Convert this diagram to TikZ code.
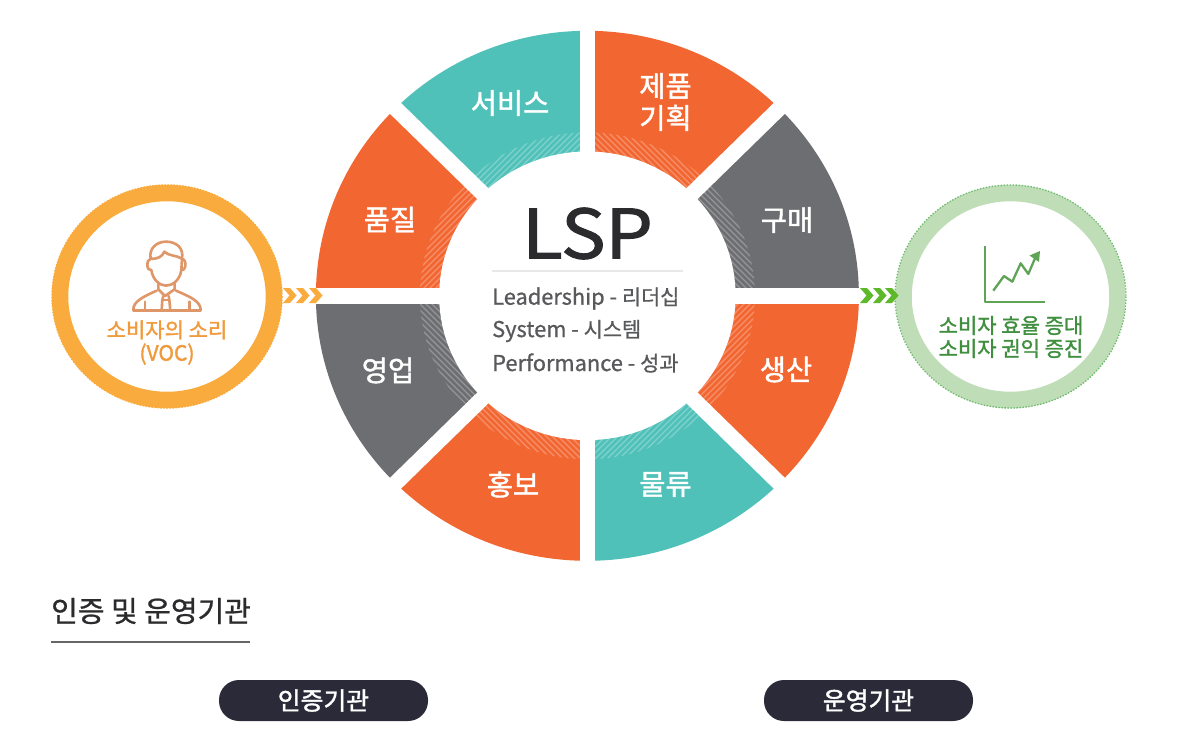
\documentclass[tikz,border=0pt]{standalone}
\usepackage{fontspec}
\setmainfont{Noto Sans CJK KR}
\newfontfamily\medf[FakeBold=0.8]{Noto Sans CJK KR}
\newfontfamily\semf[FakeBold=1.5]{Noto Sans CJK KR}
\usetikzlibrary{shapes.geometric}
\definecolor{cOrange}{HTML}{F26631}
\definecolor{cTeal}{HTML}{4FC1B9}
\definecolor{cGray}{HTML}{6D6E71}
\definecolor{cRingO}{HTML}{FAAB3E}
\definecolor{cRingG}{HTML}{BFDDB6}
\definecolor{cDotG}{HTML}{6FBB6F}
\definecolor{cChevG}{HTML}{5DB82A}
\definecolor{cIconO}{HTML}{DF9668}
\definecolor{cTextO}{HTML}{F09A3C}
\definecolor{cTextG}{HTML}{3F8F3F}
\definecolor{cIconG}{HTML}{5FA356}
\definecolor{cDark}{HTML}{2B2B2D}
\definecolor{cMid}{HTML}{58595B}
\definecolor{cPill}{HTML}{2A2A38}
\newcommand{\latinpart}{\medf\fontsize{21.8}{24}\selectfont}
\newcommand{\hangulpart}{\medf\fontsize{20.8}{24}\selectfont}
\tikzset{
  seclabel/.style={text=white,font=\fontsize{28.5}{32}\selectfont\semf,align=center,inner sep=0pt},
  lsprow/.style={text=cMid,anchor=west,inner sep=0pt},
  ringnode/.style={ellipse,minimum width=214pt,minimum height=207pt,line width=16.5pt,inner sep=0pt},
  ringlabel/.style={font=\fontsize{21}{24}\selectfont\semf,align=center,inner sep=0pt},
  pill/.style={fill=cPill,rounded corners=20pt,minimum width=209pt,minimum height=41pt,inner sep=0pt,text=white,font=\fontsize{24.8}{28}\selectfont\semf},
  gapline/.style={white,line width=15.5pt},
  hatchline/.style={white,opacity=.28,line width=1.1pt}
}
\newcommand{\wheelsector}[8]{%
  \begin{scope}
    \clip (587.4,295.8) -- ++(#2,#3) -- ++(#4,#5) -- cycle;
    \fill[#1] (587.4,295.8) ellipse (271.5 and 265);
    \clip (587.4,295.8) ellipse (167.5 and 163.5);
    \foreach \k in {-1300,-1294,...,1300}{
      \draw[hatchline] (\k,#6) -- ++(#7,#8);
    }
  \end{scope}}
\begin{document}
\begin{tikzpicture}[x=1pt,y=-1pt]
\useasboundingbox (0,0) rectangle (1192,736);
\fill[white] (0,0) rectangle (1192,736);

% wheel sectors: colour, wedge vectors, hatch start y, hatch direction
\wheelsector{cOrange}{0}{-600}{600}{0}{0}{800}{800}
\wheelsector{cGray}{600}{-600}{0}{600}{0}{800}{800}
\wheelsector{cOrange}{600}{0}{0}{600}{800}{800}{-800}
\wheelsector{cTeal}{600}{600}{-600}{0}{800}{800}{-800}
\wheelsector{cOrange}{0}{600}{-600}{0}{0}{800}{800}
\wheelsector{cGray}{-600}{600}{0}{-600}{0}{800}{800}
\wheelsector{cOrange}{-600}{0}{0}{-600}{800}{800}{-800}
\wheelsector{cTeal}{-600}{-600}{600}{0}{800}{800}{-800}

% white hub and gaps
\fill[white] (587.4,295.8) ellipse (148.2 and 144.3);
\coordinate (wc) at (587.4,295.8);
\draw[gapline] (wc) ++(0,-290) -- ++(0,580);
\draw[gapline] (wc) ++(-290,0) -- ++(580,0);
\draw[gapline] (wc) ++(-300,-293) -- ++(600,586);
\draw[gapline] (wc) ++(-300,293) -- ++(600,-586);

% sector labels
\node[seclabel] (s1) at (510,103) {서비스};
\node[seclabel] (s2) at (665.5,102) {제품\\기획};
\node[seclabel] (s3) at (787,220) {구매};
\node[seclabel] (s4) at (786,369.5) {생산};
\node[seclabel] (s5) at (665.5,484.5) {물류};
\node[seclabel] (s6) at (513,484.5) {홍보};
\node[seclabel] (s7) at (388,370.5) {영업};
\node[seclabel] (s8) at (390,219.5) {품질};

% centre
\node[text=cDark,font=\fontsize{68}{70}\selectfont\semf,inner sep=0pt,xscale=1.1,transform shape] (lsp) at (587.5,233.5) {LSP};
\coordinate (ra) at (492,271); \coordinate (rb) at (683,271);
\draw[color=black!9,line width=1.6pt] (ra) -- (rb);
\node[lsprow] (l1) at (492,298.5) {\latinpart Leadership - \hangulpart 리더십};
\node[lsprow] (l2) at (492,331) {\latinpart System - \hangulpart 시스템};
\node[lsprow] (l3) at (492,363) {\latinpart Performance - \hangulpart 성과};

% left ring
\node[ringnode,draw=cRingO] (voc) at (167,296.5) {};
\draw[cRingO,line width=1.5pt,dash pattern=on 1.5pt off 1.5pt] (167,296.5) ellipse (115 and 111.5);
\node[ringlabel,text=cTextO] (voct) at (167,342.5) {소비자의 소리\\[-1pt](VOC)};

% person icon
\begin{scope}[shift={(30,170)},x=.3333pt,y=-.3333pt,cIconO,line width=2.6pt,line cap=round,line join=round]
  \draw (352,285) .. controls (352,275) and (356,268) .. (362,266)
        .. controls (356,235) and (380,215) .. (408,215)
        .. controls (440,215) and (462,235) .. (456,266)
        .. controls (464,268) and (468,278) .. (466,288)
        .. controls (464,298) and (458,302) .. (454,300);
  \draw (352,285) .. controls (352,296) and (358,302) .. (364,300)
        .. controls (368,330) and (390,347) .. (408,347)
        .. controls (428,347) and (450,330) .. (454,300)
        -- (456,266);
  \draw (362,266) .. controls (385,268) and (398,258) .. (403,245)
        .. controls (415,258) and (438,255) .. (456,266);
  \draw (385,338) -- (385,358) -- (405,378) -- (434,358) -- (434,338);
  \draw (310,421) .. controls (308,395) and (340,380) .. (380,362);
  \draw (512,421) .. controls (514,395) and (480,380) .. (438,362);
  \draw (310,421) -- (512,421);
  \draw (345,395) -- (345,421) (478,395) -- (478,421);
  \draw (400,378) -- (397,390) -- (395,421) (416,378) -- (418,390) -- (421,421);
  \draw (397,390) -- (418,390);
\end{scope}

% right ring
\node[ringnode,draw=cRingG] (gain) at (1010.5,296.5) {};
\draw[cDotG,line width=1.3pt,dash pattern=on 1.4pt off 1.6pt] (1010.5,296.5) ellipse (115.5 and 111.5);
\node[ringlabel,text=cTextG] (gaint) at (1011,337) {소비자 효율 증대\\[-1pt]소비자 권익 증진};

% chart icon
\begin{scope}[cIconG,line width=2.3pt,line join=round]
  \coordinate (ax0) at (985,246); \coordinate (ax1) at (985,302.3); \coordinate (ax2) at (1045,302.3);
  \draw (ax0) -- (ax1) -- (ax2);
  \coordinate (t0) at (993.3,290.7); \coordinate (t1) at (1004,276); \coordinate (t2) at (1012.3,281.7);
  \coordinate (t3) at (1020.7,263.3); \coordinate (t4) at (1028.3,274); \coordinate (t5) at (1036,256);
  \draw (t0) -- (t1) -- (t2) -- (t3) -- (t4) -- (t5);
  \fill (1040,251) -- (1039,262) -- (1029.5,255.5) -- cycle;
\end{scope}

% chevrons
\foreach \x in {283,296,309}{
  \fill[cRingO] (\x,288) -- ++(7,0) -- ++(6.5,7.5) -- ++(-6.5,7.5) -- ++(-7,0) -- ++(6.5,-7.5) -- cycle;
}
\foreach \x in {860,873,885}{
  \fill[cChevG] (\x,288) -- ++(7,0) -- ++(6.5,7.5) -- ++(-6.5,7.5) -- ++(-7,0) -- ++(6.5,-7.5) -- cycle;
}

% bottom section
\node[text=cDark,font=\fontsize{29}{32}\selectfont\medf,anchor=west,inner sep=0pt] (h) at (51,611) {인증 및 운영기관};
\coordinate (ha) at (51,642); \coordinate (hb) at (250,642);
\draw[color=black!60,line width=1.4pt] (ha) -- (hb);
\node[pill] (p1) at (323.5,700.5) {인증기관};
\node[pill] (p2) at (868.5,700.5) {운영기관};
\end{tikzpicture}
\end{document}
